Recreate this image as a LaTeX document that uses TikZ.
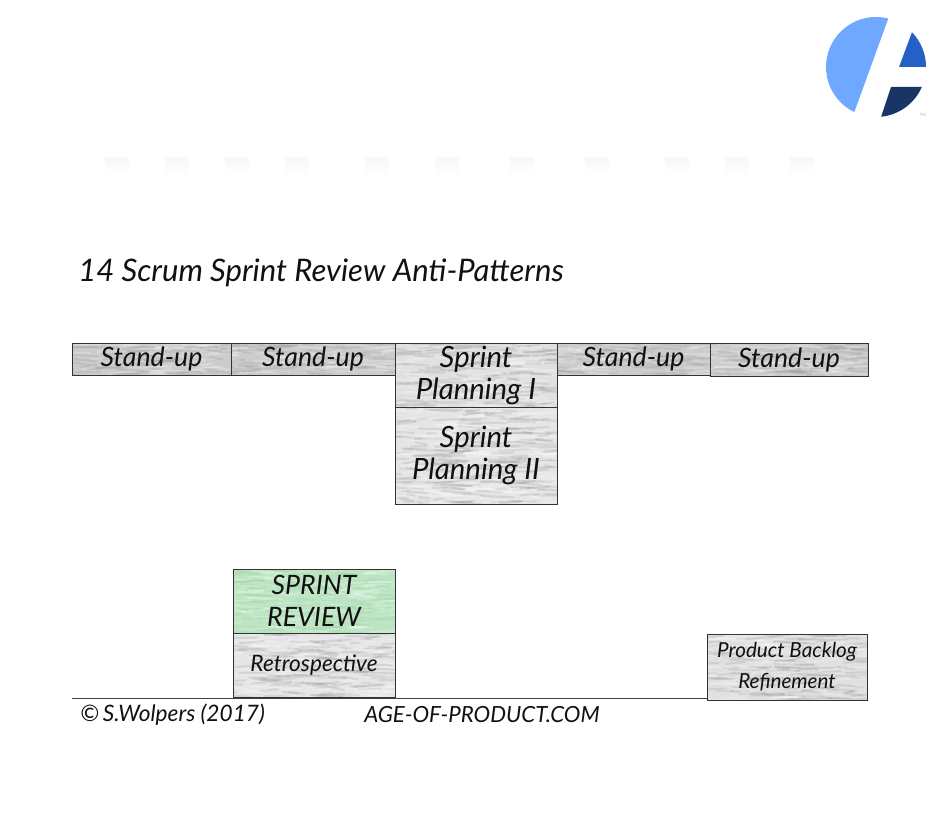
\documentclass[tikz,border=0pt]{standalone}
\usepackage{fontspec}
\setmainfont{Lato}
\usetikzlibrary{calc}
\definecolor{penc}{gray}{0.55}
\definecolor{pgreen}{HTML}{BDE5C3}
\definecolor{pgreend}{HTML}{8FCF9B}
\definecolor{lbl}{HTML}{111111}
\definecolor{logolight}{HTML}{6FA8FF}
\definecolor{logomid}{HTML}{2560C4}
\definecolor{logodark}{HTML}{183565}
\tikzset{
  cell/.style={draw=black!80,line width=0.6pt,inner sep=0pt,align=center,text=lbl},
  standfont/.style={font=\itshape\fontsize{20}{24}\selectfont},
  planfont/.style={font=\itshape\fontsize{22}{24}\selectfont},
  reviewfont/.style={font=\itshape\fontsize{20}{24}\selectfont},
  retrofont/.style={font=\itshape\fontsize{17}{20}\selectfont},
  backlogfont/.style={font=\itshape\fontsize{15.5}{23}\selectfont},
  hand/.style={inner sep=0pt,text=lbl,font=\itshape},
  stroke/.style={line width=1.5pt,opacity=0.2,line cap=round},
  smudge/.style={top color=black!3,bottom color=white,draw=none}
}
\pgfmathsetseed{14}
% #1 name, #2-#5 corners in px, #6 base, #7 stroke colour, #8 font style, #9 text
\newcommand{\hatchcell}[9]{%
  \fill[#6] (#2,#3) rectangle (#4,#5);
  \begin{scope}
    \clip (#2,#3) rectangle (#4,#5);
    \pgfmathsetmacro{\nstrokes}{int(abs((#4-#2)*(#5-#3))/80)}
    \foreach \k in {1,...,\nstrokes}{
      \pgfmathsetmacro{\xa}{#2-10+rnd*(#4-#2)}
      \pgfmathsetmacro{\ya}{#3+rnd*(#5-#3)}
      \pgfmathsetmacro{\len}{8+rnd*26}
      \pgfmathsetmacro{\dy}{(rnd-0.5)*5}
      \draw[stroke,#7] (\xa,\ya) -- ++(\len,\dy);
      \pgfmathsetmacro{\xb}{#2-10+rnd*(#4-#2)}
      \pgfmathsetmacro{\yb}{#3+rnd*(#5-#3)}
      \draw[stroke,white] (\xb,\yb) -- ++(\len,-\dy);
    }
  \end{scope}
  \pgfmathsetmacro{\cw}{(#4-#2)*0.75}
  \pgfmathsetmacro{\ch}{(#5-#3)*0.75}
  \node[cell,#8,minimum width=\cw pt,minimum height=\ch pt] (#1) at ({(#2+#4)/2},{(#3+#5)/2}) {#9};
}
\begin{document}
\begin{tikzpicture}[x=0.75pt,y=-0.75pt]
\useasboundingbox (0,0) rectangle (942,817);
\fill[white] (0,0) rectangle (942,817);
% faint scan smudges
\foreach \sx in {105,165,225,285,365,435,510,585,665,725,790}{
  \fill[smudge] (\sx,157) rectangle ++(24,20);
}
% logo
\begin{scope}
  \clip (876,67) circle (50*0.75pt);
  \fill[logolight] (800,0) -- (895,0) -- (846,135) -- (800,135) -- cycle;
  \fill[logomid] (924,0) -- (899,67) -- (940,67) -- (940,0) -- cycle;
  \fill[logodark] (891,87) -- (940,87) -- (940,135) -- (875,135) -- cycle;
\end{scope}
\node[inner sep=0pt,text=black!30,font=\fontsize{3}{3}\selectfont] (tm) at (923,115) {TM};
% title
\node[hand,anchor=west,font=\itshape\fontsize{23.3}{28}\selectfont] (title) at (78,273) {14 Scrum Sprint Review Anti-Patterns};
% top row
\hatchcell{su1}{72}{343}{231}{375}{black!20}{penc}{standfont}{Stand-up}
\hatchcell{su2}{231}{343}{395}{375}{black!20}{penc}{standfont}{Stand-up}
\hatchcell{sp1}{395}{343}{557}{407}{black!12}{penc}{planfont}{Sprint\\Planning I}
\hatchcell{sp2}{395}{407}{557}{504}{black!10}{penc}{planfont}{Sprint\\Planning II}
\hatchcell{su3}{557}{343}{710}{375}{black!20}{penc}{standfont}{Stand-up}
\hatchcell{su4}{710}{343}{868}{376}{black!20}{penc}{standfont}{Stand-up}
% bottom row
\hatchcell{rev}{233}{569}{395}{633}{pgreen}{pgreend}{reviewfont}{SPRINT\\REVIEW}
\hatchcell{ret}{233}{633}{395}{697}{black!10}{penc}{retrofont}{Retrospective}
\hatchcell{pbr}{707}{634}{867}{700}{black!12}{penc}{backlogfont}{Product Backlog\\Refinement}
% base line
\coordinate (baseL) at (72,698);
\draw[black!75,line width=0.6pt] (baseL) -- (pbr.west |- baseL);
% footer
\node[hand,anchor=west,font=\itshape\fontsize{17}{20}\selectfont] (copy) at (80,715) {©\,S.Wolpers (2017)};
\node[hand,anchor=west,font=\itshape\fontsize{16.7}{20}\selectfont] (site) at (364,715) {AGE-OF-PRODUCT.COM};
\end{tikzpicture}
\end{document}
